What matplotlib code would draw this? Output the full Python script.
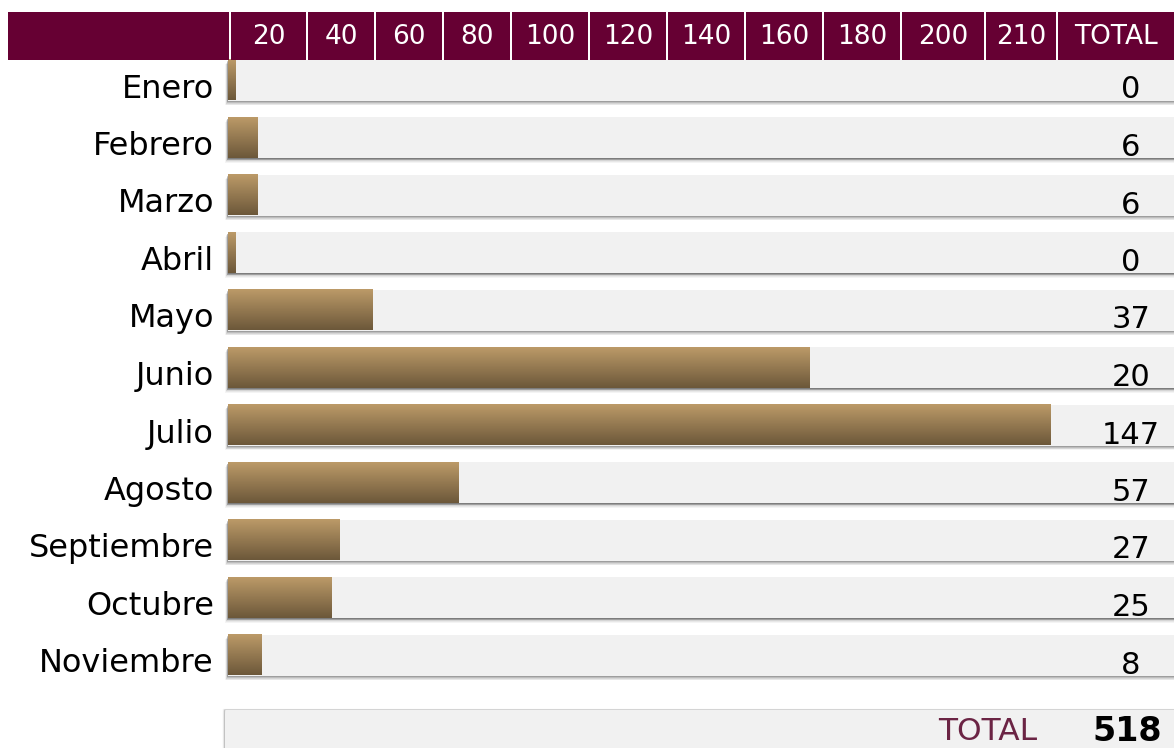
import numpy as np
import matplotlib
matplotlib.use("Agg")
import matplotlib.pyplot as plt
from matplotlib.patches import Rectangle, FancyBboxPatch

# ---- data ----
months = ["Enero", "Febrero", "Marzo", "Abril", "Mayo", "Junio", "Julio",
          "Agosto", "Septiembre", "Octubre", "Noviembre"]
bar_values = [1.8, 7.5, 7.5, 1.8, 37, 149, 211, 59, 28.5, 26.5, 8.7]
totals = [0, 6, 6, 0, 37, 20, 147, 57, 27, 25, 8]
header_labels = ["20", "40", "60", "80", "100", "120", "140", "160", "180",
                 "200", "210", "TOTAL"]
grand_total = 518

W, H = 1174, 748
plt.rcParams['font.family'] = ['DejaVu Sans']
fig = plt.figure(figsize=(W / 100, H / 100), dpi=100)

# axes for bar area, data units: x value units, y row index
px_per_unit = 3.9
row_px = 57.5
row0_px = 80
x0_px = 228
ax = fig.add_axes([x0_px / W, 0, (W - x0_px) / W, 1])
xmax = (W - x0_px) / px_per_unit
ytop = -row0_px / row_px
ybot = (H - row0_px) / row_px
ax.axis("off")

MAROON = "#660033"
GREY = "#f1f1f1"
bar_h = 41 / row_px
ux = 1 / px_per_unit   # one pixel in x units
uy = 1 / row_px        # one pixel in y units

# gradient for gold bars
top_c = np.array([0xbc, 0x9a, 0x68]) / 255
bot_c = np.array([0x6c, 0x58, 0x3a]) / 255
t = np.linspace(0, 1, 64)[:, None]
grad = (top_c[None, :] * (1 - t) + bot_c[None, :] * t)[:, None, :]

shadow_layers = [(6, 0.06), (5, 0.08), (4, 0.12), (3, 0.18), (2, 0.28), (1, 0.40)]
for i, (m, v, tot) in enumerate(zip(months, bar_values, totals)):
    y = i
    for k, a in shadow_layers:
        ax.add_patch(Rectangle((-k * 0.5 * ux, y - bar_h / 2 + k * 0.8 * uy),
                               xmax + 5, bar_h, facecolor="#444444", alpha=a * 0.9,
                               lw=0, zorder=1, clip_on=False))
    ax.add_patch(Rectangle((0, y - bar_h / 2), xmax + 5, bar_h,
                           facecolor=GREY, lw=0, zorder=2))
    ax.imshow(grad, extent=[0, v, y + bar_h / 2, y - bar_h / 2],
              aspect="auto", zorder=3, interpolation="bilinear")
    ax.text(-14 * ux, y + 9 * uy, m, ha="right", va="center", fontsize=23,
            color="black", clip_on=False, zorder=5)
    ax.text((1131 - x0_px) * ux, y + 10 * uy, str(tot), ha="center",
            va="center", fontsize=22, color="black", zorder=5)

# total row
ty = (730 - row0_px) / row_px
for k, a in [(4, 0.06), (3, 0.10), (2, 0.18), (1, 0.3)]:
    ax.add_patch(FancyBboxPatch((-3 * ux - k * 0.6 * ux, ty - 20 * uy - k * 0.3 * uy),
                                xmax + 10, 60 * uy,
                                boxstyle="round,pad=0,rounding_size=0.08",
                                facecolor="#777777", alpha=a, lw=0, zorder=1,
                                clip_on=False))
ax.add_patch(FancyBboxPatch((-3 * ux, ty - 20 * uy), xmax + 10, 60 * uy,
                            boxstyle="round,pad=0,rounding_size=0.08",
                            facecolor=GREY, lw=0, zorder=2, clip_on=False))
ax.text((988 - x0_px) * ux, ty + 2 * uy, "TOTAL", ha="center", va="center",
        fontsize=22.5, color="#6b2444", zorder=5)
ax.text((1127 - x0_px) * ux, ty + 1 * uy, str(grand_total), ha="center",
        va="center", fontsize=24, fontweight="bold", color="black", zorder=5)

ax.set_xlim(0, xmax)
ax.set_ylim(ybot, ytop)

# header
hdr = fig.add_axes([0, 0, 1, 1], zorder=10)
hdr.set_xlim(0, W)
hdr.set_ylim(H, 0)
hdr.axis("off")
hdr.patch.set_alpha(0)
hdr.add_patch(Rectangle((8, 12), 229 - 8, 48, facecolor=MAROON, lw=0))
edges = [231, 308, 376, 444, 512, 590, 668, 746, 824, 902, 986, 1058, 1176]
for lab, l, r in zip(header_labels, edges[:-1], edges[1:]):
    hdr.add_patch(Rectangle((l, 12), r - l - 2, 48, facecolor=MAROON, lw=0))
    hdr.text((l + r - 2) / 2, 37, lab, ha="center", va="center",
             fontsize=19, color="white")

fig.savefig("out.png", dpi=100)
